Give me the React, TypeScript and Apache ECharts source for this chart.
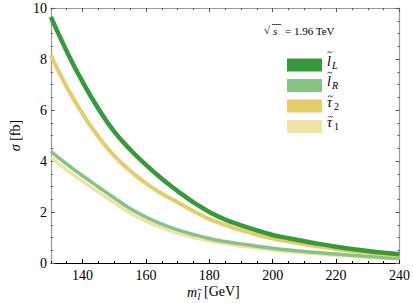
import React, { useEffect, useRef } from "react";
import * as echarts from "echarts";

const xs = [130, 135, 140, 145, 150, 155, 160, 165, 170, 175, 180, 185, 190, 195, 200, 205, 210, 215, 220, 225, 230, 235, 240];
const lL = [9.65, 8.3, 7.1, 6.05, 5.15, 4.45, 3.85, 3.3, 2.82, 2.38, 2.0, 1.7, 1.48, 1.28, 1.1, 0.97, 0.85, 0.74, 0.64, 0.55, 0.47, 0.4, 0.34];
const tau2 = [8.15, 6.9, 5.85, 4.95, 4.2, 3.62, 3.12, 2.72, 2.38, 2.04, 1.72, 1.49, 1.29, 1.11, 0.96, 0.84, 0.73, 0.64, 0.55, 0.47, 0.4, 0.34, 0.28];
const lR = [4.38, 3.88, 3.42, 2.98, 2.55, 2.14, 1.8, 1.52, 1.3, 1.12, 0.96, 0.84, 0.75, 0.66, 0.58, 0.51, 0.45, 0.4, 0.35, 0.3, 0.26, 0.22, 0.19];
const tau1 = [4.13, 3.65, 3.2, 2.78, 2.36, 1.97, 1.64, 1.38, 1.17, 1.0, 0.86, 0.76, 0.67, 0.59, 0.51, 0.45, 0.4, 0.35, 0.31, 0.27, 0.23, 0.19, 0.16];

const xMajor = [140, 160, 180, 200, 220, 240];
const seriesNames = ["lL", "lR", "tau2", "tau1"];
const legendBase: Record<string, string> = { lL: "l", lR: "l", tau2: "\u03c4", tau1: "\u03c4" };
const legendSub: Record<string, string> = { lL: "L", lR: "R", tau2: "2", tau1: "1" };
const colors: Record<string, string> = {
  lL: "#36993a",
  lR: "#86c386",
  tau2: "#e6cc6a",
  tau1: "#f1e2a6",
};
const widths: Record<string, number> = { lL: 4.5, lR: 3.5, tau2: 4, tau1: 3.5 };
const values: Record<string, number[]> = { lL, lR, tau2, tau1 };
const drawOrder = ["tau1", "lR", "tau2", "lL"];

const serif = '"Liberation Serif", "DejaVu Serif", serif';

function tilde(x: number, y: number, w: number) {
  return {
    type: "bezierCurve",
    shape: { x1: x, y1: y + 0.6, x2: x + w, y2: y - 0.6, cpx1: x + w * 0.35, cpy1: y - 2.4, cpx2: x + w * 0.65, cpy2: y + 2.4 },
    style: { stroke: "#000", lineWidth: 0.8, fill: "none" },
  };
}

export default function App() {
  const ref = useRef<HTMLDivElement>(null);
  useEffect(() => {
    if (!ref.current) return;
    const chart = echarts.init(ref.current, undefined, { renderer: "svg" });
    const minorX = (position: string) => ({
      type: "value",
      min: 130,
      max: 240,
      interval: 5,
      position,
      axisLine: { show: false },
      axisTick: { show: true, inside: true, length: 2, lineStyle: { color: position === "bottom" ? "#000" : "#555" } },
      axisLabel: { show: false },
      splitLine: { show: false },
    });
    const rich = {
      i: { fontFamily: serif, fontStyle: "italic", fontSize: 14, color: "#000" },
      r: { fontFamily: serif, fontSize: 14, color: "#000" },
    };
    const legendTop = 53.5;
    const legendStep = 20.5;
    const legendGraphics: any[] = [];
    seriesNames.forEach((n, k) => {
      const cy = legendTop + 6.5 + k * legendStep;
      const isTau = legendBase[n] !== "l";
      legendGraphics.push(
        { type: "text", x: 327, y: cy + 1, style: { text: legendBase[n], font: `italic 14px ${serif}`, fill: "#000", verticalAlign: "middle" } },
        isTau ? tilde(328.2, cy - 4.8, 4.6) : tilde(327.6, cy - 7.8, 4.4),
        { type: "text", x: isTau ? 334 : 332, y: cy + 5, style: { text: legendSub[n], font: `${isTau ? "" : "italic "}10px ${serif}`, fill: "#000", verticalAlign: "middle" } }
      );
    });
    const option: any = {
      animation: false,
      backgroundColor: "#fff",
      grid: { left: 37, right: 10, top: 8, bottom: 40 },
      xAxis: [
        {
          type: "value",
          min: 130,
          max: 240,
          position: "bottom",
          axisLine: { show: true, lineStyle: { color: "#000", width: 1 } },
          axisTick: { show: true, inside: true, length: 4, customValues: xMajor, lineStyle: { color: "#000" } },
          axisLabel: { customValues: xMajor, color: "#000", fontFamily: serif, fontSize: 14, margin: 5 },
          splitLine: { show: false },
        },
        minorX("bottom"),
        {
          type: "value",
          min: 130,
          max: 240,
          position: "top",
          axisLine: { show: true, lineStyle: { color: "#999", width: 1 } },
          axisTick: { show: true, inside: true, length: 4, customValues: xMajor, lineStyle: { color: "#555" } },
          axisLabel: { show: false },
          splitLine: { show: false },
        },
        minorX("top"),
      ],
      yAxis: [
        {
          type: "value",
          min: 0,
          max: 10,
          interval: 2,
          position: "left",
          axisLine: { show: true, lineStyle: { color: "#999", width: 1.2 } },
          axisTick: { show: true, inside: true, length: 4, lineStyle: { color: "#555" } },
          minorTick: { show: true, splitNumber: 4, length: 2, lineStyle: { color: "#555" } },
          axisLabel: { color: "#000", fontFamily: serif, fontSize: 14, margin: 4 },
          splitLine: { show: false },
          name: "{i|\u03c3} {r|[fb]}",
          nameLocation: "middle",
          nameGap: 20,
          nameRotate: 90,
          nameTextStyle: { fontFamily: serif, fontSize: 14, color: "#000", rich },
        },
        {
          type: "value",
          min: 0,
          max: 10,
          interval: 2,
          position: "right",
          axisLine: { show: true, lineStyle: { color: "#999", width: 1.2 } },
          axisTick: { show: true, inside: true, length: 4, lineStyle: { color: "#555" } },
          minorTick: { show: true, splitNumber: 4, length: 2, lineStyle: { color: "#555" } },
          axisLabel: { show: false },
          splitLine: { show: false },
        },
      ],
      legend: {
        orient: "vertical",
        left: 282,
        top: legendTop,
        itemWidth: 35,
        itemHeight: 13,
        itemGap: legendStep - 13,
        icon: "rect",
        data: seriesNames,
        formatter: () => "",
        textStyle: { fontSize: 8, color: "#000" },
      },
      graphic: [
        { type: "text", x: 264, y: 30, style: { text: "\u221a", font: `11px ${serif}`, fill: "#000", verticalAlign: "middle" } },
        { type: "text", x: 273, y: 31, style: { text: "s", font: `italic 11px ${serif}`, fill: "#000", verticalAlign: "middle" } },
        { type: "line", shape: { x1: 272, y1: 24.5, x2: 281, y2: 24.5 }, style: { stroke: "#000", lineWidth: 0.7 } },
        { type: "text", x: 285, y: 31, style: { text: "= 1.96 TeV", font: `11px ${serif}`, fill: "#000", verticalAlign: "middle" } },
        { type: "text", x: 187, y: 292, style: { text: "m", font: `italic 14px ${serif}`, fill: "#000", verticalAlign: "middle" } },
        { type: "text", x: 197.5, y: 296.5, style: { text: "l", font: `italic 10px ${serif}`, fill: "#000", verticalAlign: "middle" } },
        tilde(198, 289.5, 3.6),
        { type: "text", x: 204, y: 291, style: { text: "[GeV]", font: `14px ${serif}`, fill: "#000", verticalAlign: "middle" } },
        ...legendGraphics,
      ],
      series: drawOrder.map((n) => ({
        name: n,
        type: "line",
        xAxisIndex: 0,
        yAxisIndex: 0,
        smooth: 0.5,
        showSymbol: false,
        symbol: "none",
        data: xs.map((x, i) => [x, values[n][i]]),
        lineStyle: { color: colors[n], width: widths[n] },
        itemStyle: { color: colors[n] },
        z: 2,
      })),
    };
    chart.setOption(option);
    return () => chart.dispose();
  }, []);
  return <div ref={ref} style={{ position: "fixed", left: 0, top: 0, width: 413, height: 303 }} />;
}
